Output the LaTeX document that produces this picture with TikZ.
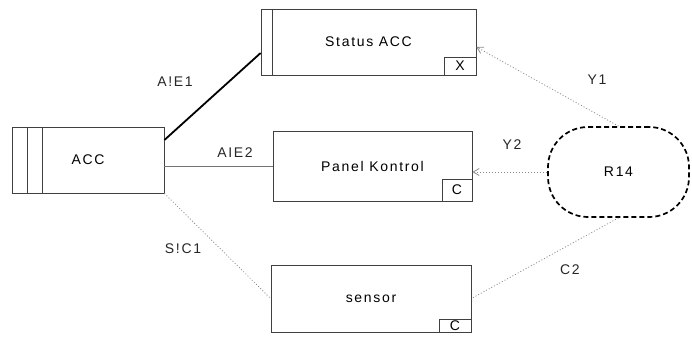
\documentclass[tikz,border=0pt]{standalone}
\usepackage{fontspec}
\setmainfont{Liberation Sans}[LetterSpace=12]
\usetikzlibrary{arrows.meta}
\tikzset{
  box/.style={draw=black!75, line width=0.8pt, inner sep=0pt, font=\fontsize{14pt}{16pt}\selectfont},
  smallbox/.style={draw=black!75, line width=0.8pt, inner sep=0pt, anchor=south east, font=\fontsize{14pt}{16pt}\selectfont},
  lbl/.style={font=\fontsize{14pt}{16pt}\selectfont, text=black!85, inner sep=1pt},
  strongline/.style={line width=1.8pt, black},
  thinline/.style={line width=0.7pt, black!55},
  dotline/.style={line width=0.8pt, black!45, dash pattern=on 1pt off 2pt},
  arr/.style={-{Straight Barb[length=6pt,width=7pt]}}
}
\begin{document}
\begin{tikzpicture}[x=1pt,y=-1pt]
\useasboundingbox (0,0) rectangle (692,338);
% boxes
\node[box, minimum width=152pt, minimum height=66pt] (acc) at (88,160) {ACC};
\draw[black!75, line width=0.8pt] ([xshift=16pt]acc.north west) -- ([xshift=16pt]acc.south west);
\draw[black!75, line width=0.8pt] ([xshift=31pt]acc.north west) -- ([xshift=31pt]acc.south west);

\node[box, minimum width=215pt, minimum height=66pt] (status) at (368.5,42) {Status ACC};
\draw[black!75, line width=0.8pt] ([xshift=12pt]status.north west) -- ([xshift=12pt]status.south west);
\node[smallbox, minimum width=32pt, minimum height=18pt] (sx) at (status.south east) {X};

\node[box, minimum width=199pt, minimum height=70pt] (panel) at (372.5,166) {Panel Kontrol};
\node[smallbox, minimum width=30pt, minimum height=22pt] (pc) at (panel.south east) {C};

\node[box, minimum width=200pt, minimum height=67pt] (sensor) at (371,298.5) {sensor};
\node[smallbox, minimum width=32pt, minimum height=13pt] (sc) at (sensor.south east) {C};

\node[draw=black, line width=1.7pt, dash pattern=on 5pt off 3pt, rounded corners=40pt,
      minimum width=141pt, minimum height=90pt, inner sep=0pt, font=\fontsize{14pt}{16pt}\selectfont] (r14) at (618.5,172) {R14};

% connectors
\draw[strongline] ([yshift=20pt]acc.east) -- ([yshift=-11pt]status.west);
\draw[thinline] (panel.west -| acc.east) -- (panel.west);
\draw[dotline] (acc.south east) -- (sensor.west);
\draw[dotline, arr] (r14.north) -- ([yshift=-5pt]status.east);
\draw[dotline, arr] (r14.west) -- (r14.west -| panel.east);
\draw[dotline] (r14.south) -- (sensor.east);

% labels
\node[lbl] (l1) at (175,82) {A!E1};
\node[lbl] (l2) at (235,153) {AIE2};
\node[lbl] (l3) at (183,249) {S!C1};
\node[lbl] (l4) at (597,80) {Y1};
\node[lbl] (l5) at (512,145) {Y2};
\node[lbl] (l6) at (570,270) {C2};
\end{tikzpicture}
\end{document}
